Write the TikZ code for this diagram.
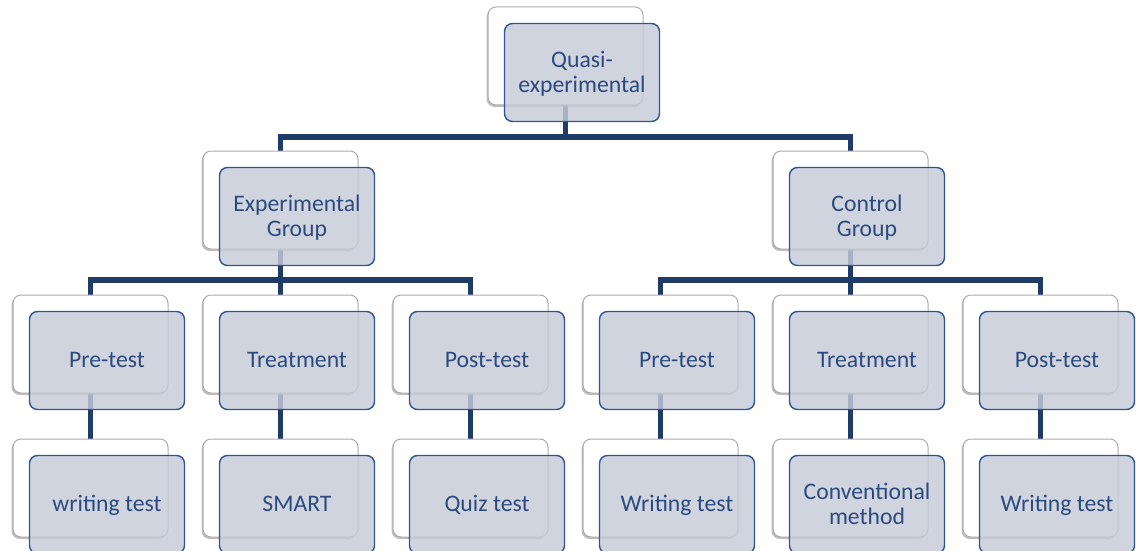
\documentclass[tikz,border=0pt]{standalone}
\usepackage{fontspec}
\setmainfont{Carlito}
\usepackage{tikz}
\usetikzlibrary{positioning, shadows}
\definecolor{navy}{HTML}{1F3B68}
\definecolor{boxline}{HTML}{2F5597}
\definecolor{boxfill}{HTML}{C6CBD8}
\definecolor{ink}{HTML}{2B4A7E}
\pgfdeclarelayer{bg}
\pgfsetlayers{bg,main}
\newcommand{\cardstrut}{\rule[-7pt]{0pt}{28pt}}
\newcommand{\topstrut}{\rule{0pt}{21.7pt}}
\newcommand{\botstrut}{\rule[-7pt]{0pt}{7pt}}
\tikzset{
back/.style={draw=gray!65, line width=1pt, fill=white, rounded corners=8pt,
  minimum width=155pt, minimum height=98pt, inner sep=0pt, outer sep=0pt,
  drop shadow={shadow xshift=-1.4pt, shadow yshift=-2pt, opacity=0.5}},
front/.style={draw=boxline, line width=1.4pt, fill=boxfill, fill opacity=0.82,
  text opacity=1, text=ink, rounded corners=8pt,
  minimum width=155pt, minimum height=98pt, inner sep=0pt, align=center,
  font=\fontsize{23.7}{25.3}\selectfont},
link/.style={draw=navy, line width=5.5pt}
}

\begin{document}
\begin{tikzpicture}[x=1pt, y=-1pt, node distance=35pt]
			\useasboundingbox (0,0) rectangle (1136,551);
			% ---- back cards
			\node[back] (pre1) at (90.5,344) {};
			\node[back, right = of pre1] (trt1) {};
			\node[back, right = of trt1] (post1) {};
			\node[back, right = of post1] (pre2) {};
			\node[back, right = of pre2] (trt2) {};
			\node[back, right = of trt2] (post2) {};
			\node[back, below = 46pt of pre1] (wt1) {};
			\node[back, below = 46pt of trt1] (smart) {};
			\node[back, below = 46pt of post1] (quiz) {};
			\node[back, below = 46pt of pre2] (wt2) {};
			\node[back, below = 46pt of trt2] (conv) {};
			\node[back, below = 46pt of post2] (wt3) {};
			\node[back, above = 46pt of trt1] (exp) {};
			\node[back, above = 46pt of trt2] (ctl) {};
			\node[back] (quasi) at (565.5,56) {};
			% ---- front cards
			\node[front] (quasi-f) at ([shift={(16.5,16.5)}]quasi.center) {\topstrut Quasi-\\experimental\botstrut};
			\node[front] (exp-f) at ([shift={(16.5,16.5)}]exp.center) {\topstrut Experimental\\Group\botstrut};
			\node[front] (ctl-f) at ([shift={(16.5,16.5)}]ctl.center) {\topstrut Control\\Group\botstrut};
			\node[front] (pre1-f) at ([shift={(16.5,16.5)}]pre1.center) {\cardstrut Pre-test};
			\node[front] (trt1-f) at ([shift={(16.5,16.5)}]trt1.center) {\cardstrut Treatment};
			\node[front] (post1-f) at ([shift={(16.5,16.5)}]post1.center) {\cardstrut Post-test};
			\node[front] (pre2-f) at ([shift={(16.5,16.5)}]pre2.center) {\cardstrut Pre-test};
			\node[front] (trt2-f) at ([shift={(16.5,16.5)}]trt2.center) {\cardstrut Treatment};
			\node[front] (post2-f) at ([shift={(16.5,16.5)}]post2.center) {\cardstrut Post-test};
			\node[front] (wt1-f) at ([shift={(16.5,16.5)}]wt1.center) {\cardstrut writing test};
			\node[front] (smart-f) at ([shift={(16.5,16.5)}]smart.center) {\cardstrut SMART};
			\node[front] (quiz-f) at ([shift={(16.5,16.5)}]quiz.center) {\cardstrut Quiz test};
			\node[front] (wt2-f) at ([shift={(16.5,16.5)}]wt2.center) {\cardstrut Writing test};
			\node[front] (conv-f) at ([shift={(16.5,16.5)}]conv.center) {\topstrut Conventional\\method\botstrut};
			\node[front] (wt3-f) at ([shift={(16.5,16.5)}]wt3.center) {\cardstrut Writing test};
			% ---- joints of the bars
			\coordinate (top) at (565.5,137);
			\coordinate (left) at (280.5,280);
			\coordinate (right) at (850.5,280);
			% ---- tree lines, behind the cards
			\begin{pgfonlayer}{bg}
			\draw[link] (quasi) -- (top) -| (exp);
			\draw[link] (top) -| (ctl);
			\draw[link] (exp) -- (left) -| (pre1);
			\draw[link] (left) -- (trt1);
			\draw[link] (left) -| (post1);
			\draw[link] (ctl) -- (right) -| (pre2);
			\draw[link] (right) -- (trt2);
			\draw[link] (right) -| (post2);
			%
			\draw[link] (pre1) -- (wt1);
			\draw[link] (trt1) -- (smart);
			\draw[link] (post1) -- (quiz);
			\draw[link] (pre2) -- (wt2);
			\draw[link] (trt2) -- (conv);
			\draw[link] (post2) -- (wt3);
			\end{pgfonlayer}
		\end{tikzpicture}
\end{document}
